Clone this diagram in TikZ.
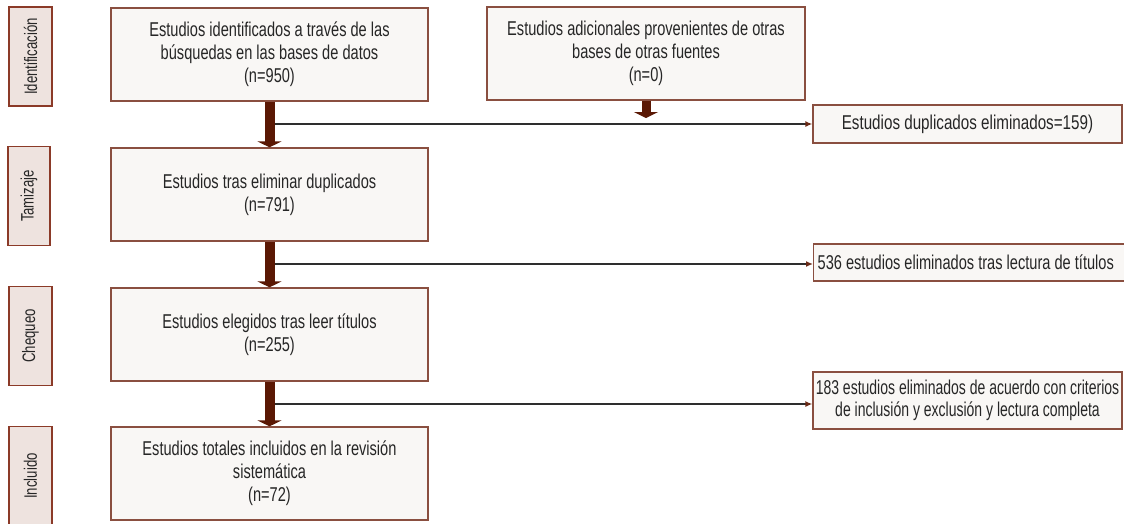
\documentclass[tikz,border=0pt]{standalone}
\usepackage{fontspec}
\setmainfont[FakeStretch=0.73]{Liberation Sans}
\newfontfamily\narrowfont[FakeStretch=0.70]{Liberation Sans}
\newfontfamily\widerfont[FakeStretch=0.76]{Liberation Sans}
\usetikzlibrary{arrows.meta}
\definecolor{boxline}{HTML}{8A4F40}
\definecolor{boxfill}{HTML}{F9F7F5}
\definecolor{labfill}{HTML}{EEE3DF}
\definecolor{labline}{HTML}{8B3A28}
\definecolor{arrowbrown}{HTML}{5A1804}
\definecolor{txt}{HTML}{262626}
\definecolor{thinline}{HTML}{2E2E2E}
\definecolor{tipbrown}{HTML}{6B2A16}
\begin{document}
\begin{tikzpicture}[x=1pt,y=-1pt,
  mainbox/.style={draw=boxline, fill=boxfill, line width=1.3pt, minimum width=317pt, minimum height=93pt, inner sep=0pt, align=center, text=txt, font=\fontsize{20}{23}\selectfont},
  sidebox/.style={draw=boxline, fill=boxfill, line width=1.3pt, minimum width=309pt, inner sep=0pt, align=center, text=txt, font=\narrowfont\fontsize{20}{22}\selectfont},
  labbox/.style={draw=labline, fill=labfill, line width=1.2pt, rotate=90, minimum width=99pt, minimum height=43pt, inner sep=0pt, text=txt, font=\fontsize{18}{20}\selectfont},
  bigarrow/.style={draw=arrowbrown, line width=10pt, -{Triangle[width=24pt,length=6pt]}},
  sidearrow/.style={draw=thinline, line width=1.5pt, -{Latex[color=tipbrown,length=7pt,width=6pt]}}
]
\useasboundingbox[fill=white] (0,0) rectangle (1124,523);

% stage labels
\node[labbox] (lid) at (30.5,56.5) {Identificación};
\node[labbox, minimum height=42pt] (ltam) at (29,196) {Tamizaje};
\node[labbox] (lche) at (30.5,336) {Chequeo};
\node[labbox] (linc) at (30.5,476) {Incluido};

% main boxes
\node[mainbox] (b1) at (269.5,54.5) {Estudios identificados a través de las\\búsquedas en las bases de datos\\(n=950)};
\node[mainbox, minimum width=318pt] (badd) at (646,53.5) {Estudios adicionales provenientes de otras\\bases de otras fuentes\\(n=0)};
\node[mainbox] (b2) at (269.5,194.5) {Estudios tras eliminar duplicados\\(n=791)};
\node[mainbox] (b3) at (269.5,334.5) {Estudios elegidos tras leer títulos\\(n=255)};
\node[mainbox] (b4) at (269.5,473.5) {Estudios totales incluidos en la revisión\\sistemática\\(n=72)};

% side boxes
\node[sidebox, minimum height=38pt, font=\widerfont\fontsize{20}{22}\selectfont] (sdup) at (967.5,124) {Estudios duplicados eliminados=159)};
\node[sidebox, anchor=west, minimum height=37pt, minimum width=330pt, font=\rmfamily\fontsize{20}{22}\selectfont] (stit) at (813,262.5) {\makebox[322pt][l]{536 estudios eliminados tras lectura de títulos}};
\node[sidebox, minimum height=57pt] (scri) at (967.5,400.5) {183 estudios eliminados de acuerdo con criterios\\de inclusión y exclusión y lectura completa};

% junction coordinates
\coordinate (j1) at (274.5,124);
\coordinate (j2) at (274.5,264);
\coordinate (j3) at (274.5,404);
\coordinate (addtip) at (646,118);

% thick flow arrows
\draw[bigarrow] (b1.south) -- (b2.north);
\draw[bigarrow] (b2.south) -- (b3.north);
\draw[bigarrow] (b3.south) -- (b4.north);
\draw[bigarrow, line width=9pt] (badd.south) -- (addtip);

% exclusion arrows
\draw[sidearrow] (j1) -- (j1 -| sdup.west);
\draw[sidearrow] (j2) -- (j2 -| stit.west);
\draw[sidearrow] (j3) -- (j3 -| scri.west);
\end{tikzpicture}
\end{document}
